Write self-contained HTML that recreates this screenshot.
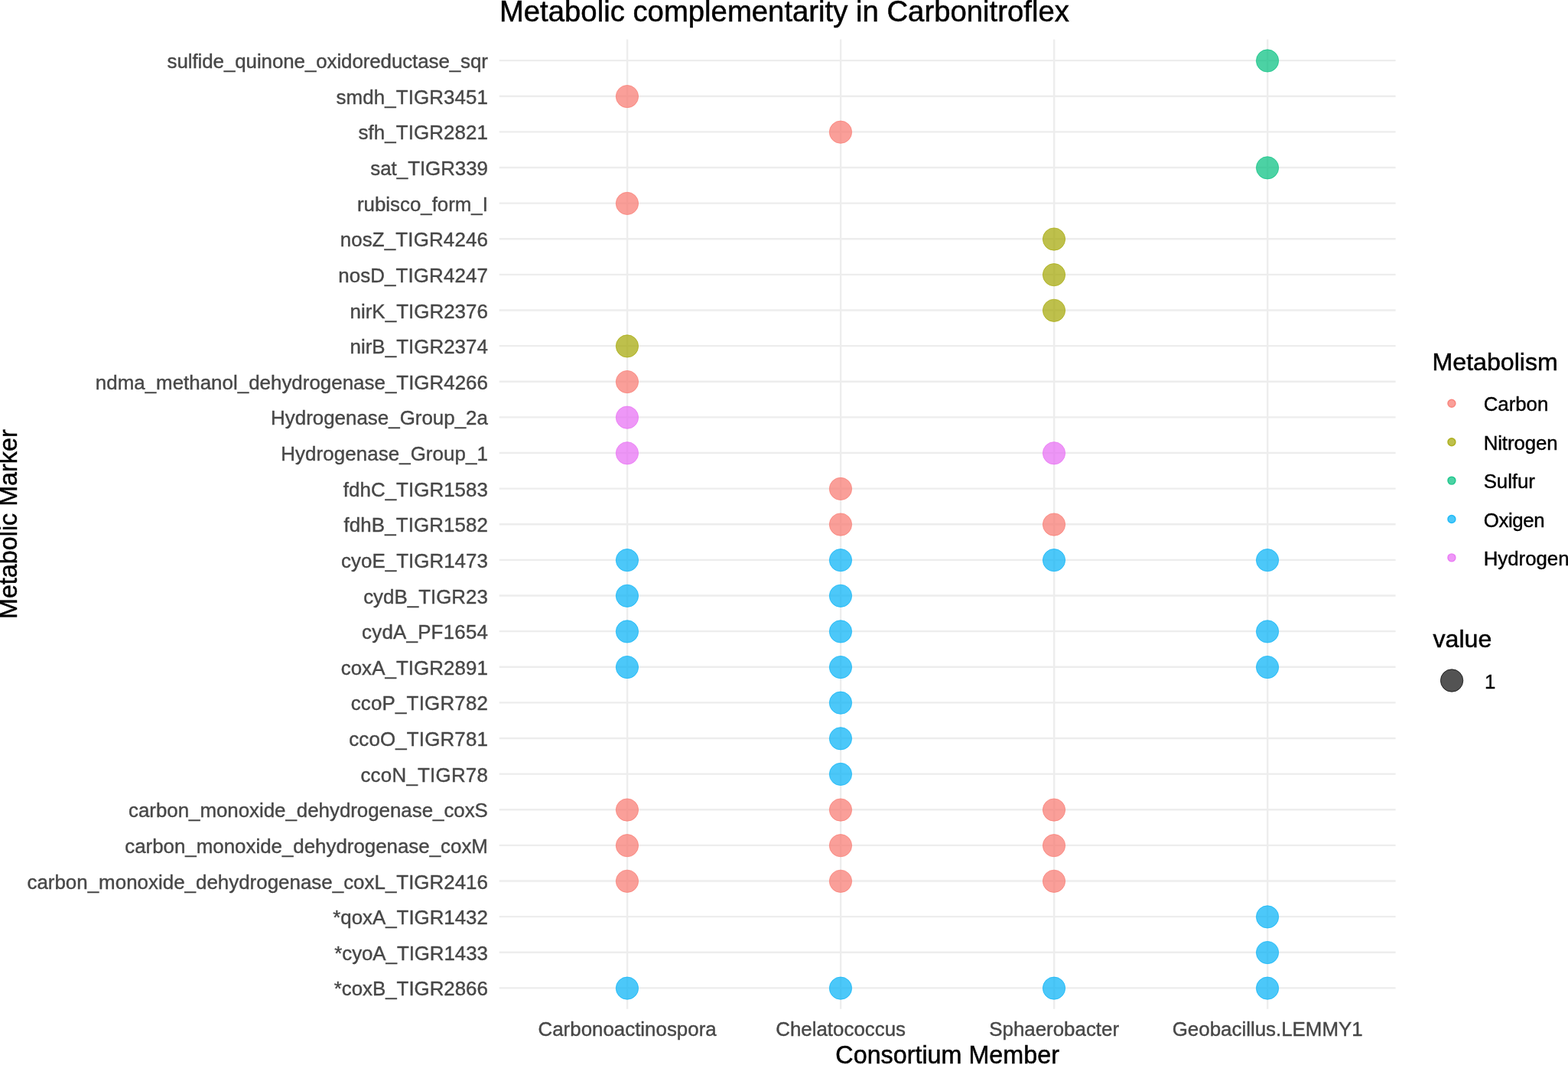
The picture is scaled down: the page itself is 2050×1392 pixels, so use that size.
<!DOCTYPE html>
<html lang="en">
<head>
<meta charset="utf-8">
<title>Metabolic complementarity in Carbonitroflex</title>
<style>
html,body{margin:0;padding:0;background:#fff;}
body{width:2050px;height:1392px;overflow:hidden;}
svg{display:block;filter:blur(0.4px);}
text{font-family:"Liberation Sans",sans-serif;}
.ax{font-size:25.9px;fill:#474747;stroke:#474747;stroke-width:0.4px;}
.tt{font-size:38.3px;fill:#000;stroke:#000;stroke-width:0.5px;}
.at{font-size:32.3px;fill:#000;stroke:#000;stroke-width:0.5px;}
.lt{font-size:32.15px;fill:#000;stroke:#000;stroke-width:0.5px;}
.ll{font-size:25.8px;fill:#000;stroke:#000;stroke-width:0.4px;}
.g{stroke:#EDEDED;stroke-width:2.45;fill:none;}
</style>
</head>
<body>
<svg width="2050" height="1392" viewBox="0 0 2050 1392">
<rect x="0" y="0" width="2050" height="1392" fill="#ffffff"/>
<g class="g">
<line x1="652.70" x2="1824.60" y1="79.13" y2="79.13"/>
<line x1="652.70" x2="1824.60" y1="125.75" y2="125.75"/>
<line x1="652.70" x2="1824.60" y1="172.38" y2="172.38"/>
<line x1="652.70" x2="1824.60" y1="219.00" y2="219.00"/>
<line x1="652.70" x2="1824.60" y1="265.63" y2="265.63"/>
<line x1="652.70" x2="1824.60" y1="312.25" y2="312.25"/>
<line x1="652.70" x2="1824.60" y1="358.87" y2="358.87"/>
<line x1="652.70" x2="1824.60" y1="405.50" y2="405.50"/>
<line x1="652.70" x2="1824.60" y1="452.12" y2="452.12"/>
<line x1="652.70" x2="1824.60" y1="498.75" y2="498.75"/>
<line x1="652.70" x2="1824.60" y1="545.37" y2="545.37"/>
<line x1="652.70" x2="1824.60" y1="591.99" y2="591.99"/>
<line x1="652.70" x2="1824.60" y1="638.62" y2="638.62"/>
<line x1="652.70" x2="1824.60" y1="685.24" y2="685.24"/>
<line x1="652.70" x2="1824.60" y1="731.87" y2="731.87"/>
<line x1="652.70" x2="1824.60" y1="778.49" y2="778.49"/>
<line x1="652.70" x2="1824.60" y1="825.11" y2="825.11"/>
<line x1="652.70" x2="1824.60" y1="871.74" y2="871.74"/>
<line x1="652.70" x2="1824.60" y1="918.36" y2="918.36"/>
<line x1="652.70" x2="1824.60" y1="964.99" y2="964.99"/>
<line x1="652.70" x2="1824.60" y1="1011.61" y2="1011.61"/>
<line x1="652.70" x2="1824.60" y1="1058.23" y2="1058.23"/>
<line x1="652.70" x2="1824.60" y1="1104.86" y2="1104.86"/>
<line x1="652.70" x2="1824.60" y1="1151.48" y2="1151.48"/>
<line x1="652.70" x2="1824.60" y1="1198.11" y2="1198.11"/>
<line x1="652.70" x2="1824.60" y1="1244.73" y2="1244.73"/>
<line x1="652.70" x2="1824.60" y1="1291.35" y2="1291.35"/>
<line x1="820.11" x2="820.11" y1="51.50" y2="1318.80"/>
<line x1="1099.14" x2="1099.14" y1="51.50" y2="1318.80"/>
<line x1="1378.16" x2="1378.16" y1="51.50" y2="1318.80"/>
<line x1="1657.19" x2="1657.19" y1="51.50" y2="1318.80"/>
</g>
<g fill-opacity="0.7" stroke-opacity="0.7" stroke-width="0.9">
<circle cx="1657.04" cy="79.43" r="14.65" fill="#00BF7D" stroke="#00BF7D"/>
<circle cx="819.96" cy="126.05" r="14.65" fill="#F8766D" stroke="#F8766D"/>
<circle cx="1098.99" cy="172.68" r="14.65" fill="#F8766D" stroke="#F8766D"/>
<circle cx="1657.04" cy="219.30" r="14.65" fill="#00BF7D" stroke="#00BF7D"/>
<circle cx="819.96" cy="265.93" r="14.65" fill="#F8766D" stroke="#F8766D"/>
<circle cx="1378.01" cy="312.55" r="14.65" fill="#A3A500" stroke="#A3A500"/>
<circle cx="1378.01" cy="359.17" r="14.65" fill="#A3A500" stroke="#A3A500"/>
<circle cx="1378.01" cy="405.80" r="14.65" fill="#A3A500" stroke="#A3A500"/>
<circle cx="819.96" cy="452.42" r="14.65" fill="#A3A500" stroke="#A3A500"/>
<circle cx="819.96" cy="499.05" r="14.65" fill="#F8766D" stroke="#F8766D"/>
<circle cx="819.96" cy="545.67" r="14.65" fill="#E76BF3" stroke="#E76BF3"/>
<circle cx="819.96" cy="592.29" r="14.65" fill="#E76BF3" stroke="#E76BF3"/>
<circle cx="1378.01" cy="592.29" r="14.65" fill="#E76BF3" stroke="#E76BF3"/>
<circle cx="1098.99" cy="638.92" r="14.65" fill="#F8766D" stroke="#F8766D"/>
<circle cx="1098.99" cy="685.54" r="14.65" fill="#F8766D" stroke="#F8766D"/>
<circle cx="1378.01" cy="685.54" r="14.65" fill="#F8766D" stroke="#F8766D"/>
<circle cx="819.96" cy="732.17" r="14.65" fill="#00B0F6" stroke="#00B0F6"/>
<circle cx="1098.99" cy="732.17" r="14.65" fill="#00B0F6" stroke="#00B0F6"/>
<circle cx="1378.01" cy="732.17" r="14.65" fill="#00B0F6" stroke="#00B0F6"/>
<circle cx="1657.04" cy="732.17" r="14.65" fill="#00B0F6" stroke="#00B0F6"/>
<circle cx="819.96" cy="778.79" r="14.65" fill="#00B0F6" stroke="#00B0F6"/>
<circle cx="1098.99" cy="778.79" r="14.65" fill="#00B0F6" stroke="#00B0F6"/>
<circle cx="819.96" cy="825.41" r="14.65" fill="#00B0F6" stroke="#00B0F6"/>
<circle cx="1098.99" cy="825.41" r="14.65" fill="#00B0F6" stroke="#00B0F6"/>
<circle cx="1657.04" cy="825.41" r="14.65" fill="#00B0F6" stroke="#00B0F6"/>
<circle cx="819.96" cy="872.04" r="14.65" fill="#00B0F6" stroke="#00B0F6"/>
<circle cx="1098.99" cy="872.04" r="14.65" fill="#00B0F6" stroke="#00B0F6"/>
<circle cx="1657.04" cy="872.04" r="14.65" fill="#00B0F6" stroke="#00B0F6"/>
<circle cx="1098.99" cy="918.66" r="14.65" fill="#00B0F6" stroke="#00B0F6"/>
<circle cx="1098.99" cy="965.29" r="14.65" fill="#00B0F6" stroke="#00B0F6"/>
<circle cx="1098.99" cy="1011.91" r="14.65" fill="#00B0F6" stroke="#00B0F6"/>
<circle cx="819.96" cy="1058.53" r="14.65" fill="#F8766D" stroke="#F8766D"/>
<circle cx="1098.99" cy="1058.53" r="14.65" fill="#F8766D" stroke="#F8766D"/>
<circle cx="1378.01" cy="1058.53" r="14.65" fill="#F8766D" stroke="#F8766D"/>
<circle cx="819.96" cy="1105.16" r="14.65" fill="#F8766D" stroke="#F8766D"/>
<circle cx="1098.99" cy="1105.16" r="14.65" fill="#F8766D" stroke="#F8766D"/>
<circle cx="1378.01" cy="1105.16" r="14.65" fill="#F8766D" stroke="#F8766D"/>
<circle cx="819.96" cy="1151.78" r="14.65" fill="#F8766D" stroke="#F8766D"/>
<circle cx="1098.99" cy="1151.78" r="14.65" fill="#F8766D" stroke="#F8766D"/>
<circle cx="1378.01" cy="1151.78" r="14.65" fill="#F8766D" stroke="#F8766D"/>
<circle cx="1657.04" cy="1198.41" r="14.65" fill="#00B0F6" stroke="#00B0F6"/>
<circle cx="1657.04" cy="1245.03" r="14.65" fill="#00B0F6" stroke="#00B0F6"/>
<circle cx="819.96" cy="1291.65" r="14.65" fill="#00B0F6" stroke="#00B0F6"/>
<circle cx="1098.99" cy="1291.65" r="14.65" fill="#00B0F6" stroke="#00B0F6"/>
<circle cx="1378.01" cy="1291.65" r="14.65" fill="#00B0F6" stroke="#00B0F6"/>
<circle cx="1657.04" cy="1291.65" r="14.65" fill="#00B0F6" stroke="#00B0F6"/>
</g>
<g class="ax" text-anchor="end">
<text x="637.90" y="89.23" textLength="419.30">sulfide_quinone_oxidoreductase_sqr</text>
<text x="637.90" y="135.85" textLength="198.42">smdh_TIGR3451</text>
<text x="637.90" y="182.48" textLength="169.34">sfh_TIGR2821</text>
<text x="637.90" y="229.10" textLength="153.53">sat_TIGR339</text>
<text x="637.90" y="275.73" textLength="170.90">rubisco_form_I</text>
<text x="637.90" y="322.35" textLength="193.27">nosZ_TIGR4246</text>
<text x="637.90" y="368.97" textLength="195.75">nosD_TIGR4247</text>
<text x="637.90" y="415.60" textLength="180.45">nirK_TIGR2376</text>
<text x="637.90" y="462.22" textLength="180.45">nirB_TIGR2374</text>
<text x="637.90" y="508.85" textLength="513.10">ndma_methanol_dehydrogenase_TIGR4266</text>
<text x="637.90" y="555.47" textLength="283.86">Hydrogenase_Group_2a</text>
<text x="637.90" y="602.09" textLength="270.66">Hydrogenase_Group_1</text>
<text x="637.90" y="648.72" textLength="189.10">fdhC_TIGR1583</text>
<text x="637.90" y="695.34" textLength="188.37">fdhB_TIGR1582</text>
<text x="637.90" y="741.97" textLength="191.87">cyoE_TIGR1473</text>
<text x="637.90" y="788.59" textLength="162.76">cydB_TIGR23</text>
<text x="637.90" y="835.21" textLength="164.80">cydA_PF1654</text>
<text x="637.90" y="881.84" textLength="192.27">coxA_TIGR2891</text>
<text x="637.90" y="928.46" textLength="179.26">ccoP_TIGR782</text>
<text x="637.90" y="975.09" textLength="181.73">ccoO_TIGR781</text>
<text x="637.90" y="1021.71" textLength="166.49">ccoN_TIGR78</text>
<text x="637.90" y="1068.33" textLength="469.85">carbon_monoxide_dehydrogenase_coxS</text>
<text x="637.90" y="1114.96" textLength="474.65">carbon_monoxide_dehydrogenase_coxM</text>
<text x="637.90" y="1161.58" textLength="602.47">carbon_monoxide_dehydrogenase_coxL_TIGR2416</text>
<text x="637.90" y="1208.21" textLength="202.70">*qoxA_TIGR1432</text>
<text x="637.90" y="1254.83" textLength="200.65">*cyoA_TIGR1433</text>
<text x="637.90" y="1301.45" textLength="201.25">*coxB_TIGR2866</text>
</g>
<g class="ax" text-anchor="middle">
<text x="820.11" y="1353.80">Carbonoactinospora</text>
<text x="1099.14" y="1353.80">Chelatococcus</text>
<text x="1378.16" y="1353.80">Sphaerobacter</text>
<text x="1657.19" y="1353.80">Geobacillus.LEMMY1</text>
</g>
<text class="tt" x="652.90" y="27.70">Metabolic complementarity in Carbonitroflex</text>
<text class="at" text-anchor="middle" x="1238.65" y="1390.20">Consortium Member</text>
<text class="at" text-anchor="middle" transform="translate(21.90,685.15) rotate(-90)">Metabolic Marker</text>
<text class="lt" x="1872.50" y="483.80">Metabolism</text>
<circle cx="1897.90" cy="527.30" r="5" fill="#F8766D" fill-opacity="0.7" stroke="#F8766D" stroke-opacity="0.8" stroke-width="1.4"/>
<text class="ll" x="1939.70" y="537.40" textLength="84.62">Carbon</text>
<circle cx="1897.90" cy="577.70" r="5" fill="#A3A500" fill-opacity="0.7" stroke="#A3A500" stroke-opacity="0.8" stroke-width="1.4"/>
<text class="ll" x="1939.70" y="587.80" textLength="96.82">Nitrogen</text>
<circle cx="1897.90" cy="628.10" r="5" fill="#00BF7D" fill-opacity="0.7" stroke="#00BF7D" stroke-opacity="0.8" stroke-width="1.4"/>
<text class="ll" x="1939.70" y="638.20" textLength="67.10">Sulfur</text>
<circle cx="1897.90" cy="678.50" r="5" fill="#00B0F6" fill-opacity="0.7" stroke="#00B0F6" stroke-opacity="0.8" stroke-width="1.4"/>
<text class="ll" x="1939.70" y="688.60" textLength="79.95">Oxigen</text>
<circle cx="1897.90" cy="728.90" r="5" fill="#E76BF3" fill-opacity="0.7" stroke="#E76BF3" stroke-opacity="0.8" stroke-width="1.4"/>
<text class="ll" x="1939.70" y="739.00" textLength="111.87">Hydrogen</text>
<text class="lt" x="1873.50" y="845.50">value</text>
<circle cx="1898.10" cy="889.50" r="14.7" fill="#000" fill-opacity="0.675" stroke="#000" stroke-opacity="0.7" stroke-width="1"/>
<text class="ll" x="1940.90" y="899.70">1</text>
</svg>
</body>
</html>
